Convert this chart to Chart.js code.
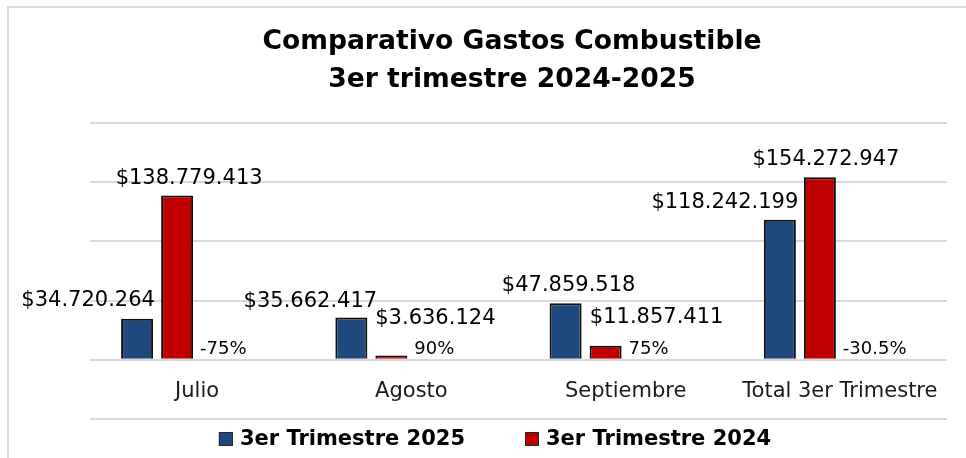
<!DOCTYPE html>
<html lang="es">
<head>
<meta charset="utf-8">
<title>Comparativo Gastos Combustible</title>
<script src="https://cdn.jsdelivr.net/npm/chart.js@4.4.0/dist/chart.umd.min.js"></script>
<style>
  html, body { margin: 0; padding: 0; background: #fff; }
  canvas { display: block; }
</style>
</head>
<body>
<canvas id="gastosChart" width="966" height="458"></canvas>
<script>
// categorías y valores (pesos)
const categorias = ['Julio', 'Agosto', 'Septiembre', 'Total 3er Trimestre'];
const trimestre2025 = [34720264, 35662417, 47859518, 118242199];
const trimestre2024 = [138779413, 3636124, 11857411, 154272947];
const variacion = ['-75%', '90%', '75%', '-30.5%'];
const ejeMin = -50000000;
const ejeMax = 200000000;
const ejePaso = 50000000;

// corrimiento manual de las etiquetas de valor (como quedaron en el original)
const ajusteEtiquetas = [
  { dx: [-49, -41, 3, -55], dy: [19, 17, 19, 18] },
  { dx: [12, 44, 51, 6], dy: [18, 38, 29, 19] }
];

const fuente = '"DejaVu Sans", sans-serif';

function formatoPesos(v) {
  return '$' + String(v).replace(/\B(?=(\d{3})+(?!\d))/g, '.');
}

// marco gris del gráfico
const marcoPlugin = {
  id: 'marco',
  beforeDraw(chart) {
    const ctx = chart.ctx;
    ctx.save();
    ctx.fillStyle = '#fff';
    ctx.fillRect(0, 0, chart.width, chart.height);
    ctx.strokeStyle = '#d9d9d9';
    ctx.lineWidth = 2;
    ctx.beginPath();
    ctx.moveTo(8, chart.height);
    ctx.lineTo(8, 7);
    ctx.lineTo(chart.width, 7);
    ctx.stroke();
    ctx.restore();
  }
};

// etiquetas de valor y variación
const etiquetasPlugin = {
  id: 'etiquetas',
  afterDatasetsDraw(chart) {
    const ctx = chart.ctx;
    const y0 = chart.scales.y.getPixelForValue(0);
    ctx.save();
    ctx.fillStyle = '#000';
    ctx.textAlign = 'center';
    ctx.textBaseline = 'middle';
    ctx.font = '21px ' + fuente;
    [0, 1].forEach(ds => {
      const aj = ajusteEtiquetas[ds];
      chart.getDatasetMeta(ds).data.forEach((bar, i) => {
        ctx.fillText(formatoPesos(chart.data.datasets[ds].data[i]), bar.x + aj.dx[i], bar.y - aj.dy[i] + 1);
      });
    });
    // variación a la derecha de la barra roja
    ctx.textAlign = 'left';
    ctx.font = '18px ' + fuente;
    chart.getDatasetMeta(1).data.forEach((bar, i) => {
      ctx.fillText(variacion[i], bar.x + bar.width / 2 + 7, y0 - 10);
    });
    ctx.restore();
  }
};

// leyenda inferior
const leyendaPlugin = {
  id: 'leyenda',
  afterDraw(chart) {
    const ctx = chart.ctx;
    const caja = 14, sep = 7, entre = 60;
    const centroX = 495, centroY = 439;
    ctx.save();
    ctx.font = 'bold 21px ' + fuente;
    ctx.textBaseline = 'middle';
    const items = chart.data.datasets.filter(d => d.enLeyenda);
    const anchos = items.map(d => ctx.measureText(d.label).width);
    const total = anchos.reduce((a, w) => a + caja + sep + w, 0) + entre * (items.length - 1);
    let x = centroX - total / 2;
    items.forEach((d, i) => {
      ctx.fillStyle = d.backgroundColor;
      ctx.fillRect(x, centroY - caja / 2, caja, caja);
      ctx.strokeStyle = '#262626';
      ctx.lineWidth = 1;
      ctx.strokeRect(x + 0.5, centroY - caja / 2 + 0.5, caja - 1, caja - 1);
      ctx.fillStyle = '#000';
      ctx.fillText(d.label, x + caja + sep, centroY + 1);
      x += caja + sep + anchos[i] + entre;
    });
    ctx.restore();
  }
};

new Chart(document.getElementById('gastosChart'), {
  type: 'bar',
  data: {
    labels: categorias,
    datasets: [
      { label: '3er Trimestre 2025', data: trimestre2025, backgroundColor: '#1F4A7D', enLeyenda: true },
      { label: '3er Trimestre 2024', data: trimestre2024, backgroundColor: '#C00000', enLeyenda: true },
      // series vacías que ocupan el lugar de la variación, como en el original
      { label: 'Variación', data: [null, null, null, null] },
      { label: '', data: [null, null, null, null] }
    ]
  },
  options: {
    responsive: false,
    animation: false,
    devicePixelRatio: 1,
    layout: { padding: { top: 0, left: 77, right: 19, bottom: 39 } },
    datasets: {
      bar: {
        borderColor: '#0d0d0d',
        borderWidth: 2,
        categoryPercentage: 0.747,
        barPercentage: 0.8
      }
    },
    plugins: {
      legend: { display: false },
      tooltip: { enabled: false },
      title: {
        display: true,
        text: ['Comparativo Gastos Combustible', '3er trimestre 2024-2025'],
        color: '#000',
        font: { family: fuente, size: 26.6, weight: 'bold', lineHeight: 1.43 },
        padding: { top: 23, bottom: 24 }
      }
    },
    scales: {
      x: {
        position: { y: 0 },
        grid: { display: false, drawTicks: false },
        border: { display: false },
        ticks: {
          color: '#1a1a1a',
          font: { family: fuente, size: 21 },
          padding: 19,
          maxRotation: 0,
          autoSkip: false
        }
      },
      y: {
        min: ejeMin,
        max: ejeMax,
        ticks: { display: false, stepSize: ejePaso },
        grid: { color: '#d9d9d9', lineWidth: 2, drawTicks: false },
        border: { display: false },
        afterFit(scale) { scale.width = 13; }
      }
    }
  },
  plugins: [marcoPlugin, etiquetasPlugin, leyendaPlugin]
});
</script>
</body>
</html>
